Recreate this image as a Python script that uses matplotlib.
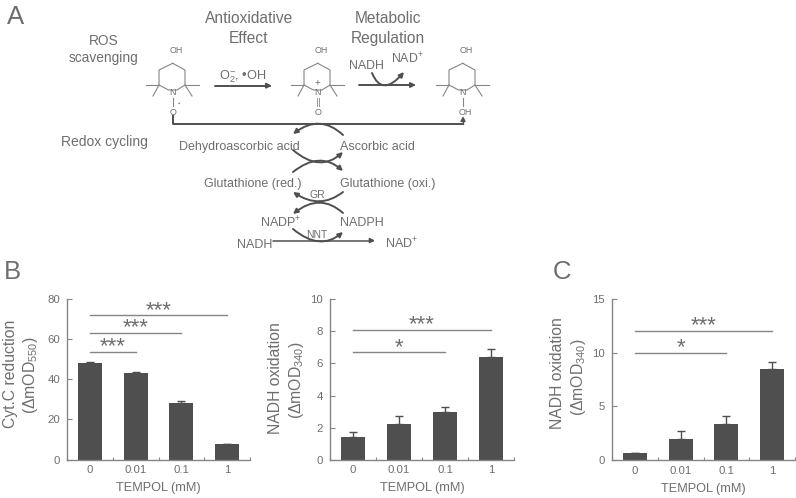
import matplotlib
matplotlib.use("Agg")
import matplotlib.pyplot as plt
from matplotlib.patches import FancyArrowPatch
from matplotlib.path import Path

plt.rcParams["font.family"] = ["Liberation Sans", "DejaVu Sans"]
plt.rcParams["mathtext.fontset"] = "custom"
plt.rcParams["mathtext.rm"] = "Liberation Sans"
plt.rcParams["mathtext.default"] = "regular"

W, H = 796, 498
DARK = "#4f4f4f"
TEXT = "#6e6e6e"
AXIS = "#858585"

doses = ["0", "0.01", "0.1", "1"]

cytc_values = [48, 43, 28.3, 7.7]
cytc_errors = [0.8, 0.5, 0.8, 0]
cytc_ticks = [0, 20, 40, 60, 80]
cytc_sig = [(3, 72, "***"), (2, 63.3, "***"), (1, 53.8, "***")]

nadh_values = [1.4, 2.2, 3.0, 6.4]
nadh_errors = [0.3, 0.5, 0.3, 0.5]
nadh_ticks = [0, 2, 4, 6, 8, 10]
nadh_sig = [(3, 8.1, "***"), (2, 6.7, "*")]

nadh_c_values = [0.7, 2.0, 3.4, 8.5]
nadh_c_errors = [0, 0.75, 0.7, 0.65]
nadh_c_ticks = [0, 5, 10, 15]
nadh_c_sig = [(3, 12.05, "***"), (2, 10.0, "*")]


def bar_panel(fig, box, values, errors, ticks, sig):
    left, right, top, bottom = box
    ax = fig.add_axes([left / W, 1 - bottom / H, (right - left) / W, (bottom - top) / H])
    ax.patch.set_visible(False)
    x = range(len(values))
    ax.bar(x, values, width=0.52, color=DARK, zorder=2)
    ax.errorbar(x, values, yerr=[[0] * len(errors), errors], fmt="none",
                ecolor=DARK, elinewidth=1, capsize=3, capthick=1, zorder=1)
    ax.set_xlim(-0.5, len(values) - 0.5)
    ax.set_ylim(ticks[0], ticks[-1])
    ax.set_yticks(ticks)
    ax.set_xticks([i - 0.5 for i in range(len(values) + 1)])
    ax.set_xticklabels([])
    ax.set_xticks(list(x), labels=doses, minor=True)
    ax.tick_params(axis="y", direction="in", length=3.5, width=0.8, color=AXIS,
                   labelcolor=TEXT, labelsize=8.2, pad=5)
    ax.tick_params(axis="x", which="major", direction="in", length=2.5, width=0.8, color=AXIS)
    ax.tick_params(axis="x", which="minor", length=0, labelcolor=TEXT, labelsize=8.2, pad=4)
    ax.spines[["top", "right"]].set_visible(False)
    ax.spines[["left", "bottom"]].set_color(AXIS)
    ax.spines[["left", "bottom"]].set_linewidth(1)
    ax.set_xlabel("TEMPOL (mM)", fontsize=9.2, color=TEXT, labelpad=5)
    for end, level, stars in sig:
        ax.plot([0, end], [level, level], color=AXIS, lw=1, clip_on=False)
        ax.annotate(stars, (end / 2, level), xytext=(0, -0.5), textcoords="offset points",
                    ha="center", va="baseline", fontsize=16, color=TEXT)
    return ax


fig = plt.figure(figsize=(W / 100, H / 100), dpi=100)

bar_panel(fig, (67, 250, 299.3, 459.5), cytc_values, cytc_errors, cytc_ticks, cytc_sig)
bar_panel(fig, (330, 514, 299.3, 459.7), nadh_values, nadh_errors, nadh_ticks, nadh_sig)
bar_panel(fig, (612, 795, 299.3, 460), nadh_c_values, nadh_c_errors, nadh_c_ticks, nadh_c_sig)

# pixel overlay for the pathway diagram and free labels
ov = fig.add_axes([0, 0, 1, 1])
ov.set_xlim(0, W)
ov.set_ylim(H, 0)
ov.axis("off")


def label(x, y, s, size=9.2, ha="center", color=TEXT, rotation=0):
    ov.text(x, y, s, fontsize=size, ha=ha, va="center", color=color, rotation=rotation)


def molecule(dx, bottom, dot=False, plus=False, double=False):
    ring = [(172.7, 63.3), (159, 70), (159, 85), (168.5, 90), (177, 90),
            (185, 85), (185, 70), (172.7, 63.3)]
    ov.plot([p[0] + dx for p in ring], [p[1] for p in ring], color=AXIS, lw=0.8)
    for a, b in [((159, 85), (146, 85)), ((159, 85), (153, 96)),
                 ((185, 85), (198.7, 85)), ((185, 85), (192, 96))]:
        ov.plot([a[0] + dx, b[0] + dx], [a[1], b[1]], color=AXIS, lw=0.8)
    label(176 + dx, 50, "OH", 6.4)
    label(172.7 + dx, 92.7, "N", 6.4)
    label(172.7 + dx + (3 if bottom == "OH" else 0), 112.7, bottom, 6.4)
    if double:
        ov.plot([171.9 + dx] * 2, [98, 106], color=AXIS, lw=0.6)
        ov.plot([173.5 + dx] * 2, [98, 106], color=AXIS, lw=0.6)
    else:
        ov.plot([172.7 + dx] * 2, [98, 106], color=AXIS, lw=0.8)
    if dot:
        label(178.7 + dx, 103, "•", 4.5)
    if plus:
        label(172.7 + dx, 83, "+", 7)


def arrow(a, b, lw=1.4, via=None):
    if via is None:
        path = Path([a, b], [Path.MOVETO, Path.LINETO])
    else:
        ctrl = (2 * via[0] - (a[0] + b[0]) / 2, 2 * via[1] - (a[1] + b[1]) / 2)
        path = Path([a, ctrl, b], [Path.MOVETO, Path.CURVE3, Path.CURVE3])
    ov.add_patch(FancyArrowPatch(path=path, arrowstyle="-|>", mutation_scale=7,
                                 color=DARK, lw=lw, shrinkA=0, shrinkB=0))


label(7, 17, "A", 18.5, ha="left")
label(4, 272, "B", 18.5, ha="left")
label(553, 272, "C", 18.5, ha="left")

label(104, 41, "ROS", 9.9)
label(104, 58, "scavenging", 9.9)
label(249, 18, "Antioxidative", 11.2)
label(249, 38, "Effect", 11.2)
label(388, 18, "Metabolic", 11.2)
label(388, 38, "Regulation", 11.2)
label(104, 141.5, "Redox cycling", 10)

molecule(0, "O", dot=True)
molecule(145, "O", plus=True, double=True)
molecule(290, "OH")

label(243, 77, "O$_2^{-}$, •OH", 9.2)
arrow((215, 85.7), (272, 85.7))
arrow((359, 85), (416, 85))
arrow((372, 73), (404, 72), via=(385, 85))
label(366, 66, "NADH", 8.9)
label(407, 59, "NAD$^{+}$", 8.9)

ov.plot([172.7, 172.7, 463], [116, 124, 124], color=DARK, lw=1.4)
arrow((463, 124), (463, 116), lw=1)

arrow((343, 135), (293, 134), via=(319, 124))
arrow((293, 150), (343, 152), via=(319, 162))
arrow((293, 172), (343, 171), via=(319, 161))
arrow((343, 192), (293, 192), via=(319, 201))
arrow((343, 213), (293, 214), via=(319, 203))
arrow((293, 229), (343, 232), via=(319, 241))
arrow((273, 240.5), (375, 240.5), lw=1.1)

label(300, 146.5, "Dehydroascorbic acid", 9, ha="right")
label(340, 146.5, "Ascorbic acid", 9, ha="left")
label(301, 184, "Glutathione (red.)", 9, ha="right")
label(340, 184, "Glutathione (oxi.)", 9, ha="left")
label(317, 195, "GR", 7.5)
label(302, 223, "NADP$^{+}$", 9, ha="right")
label(340, 223, "NADPH", 9, ha="left")
label(317, 234.5, "NNT", 7.5)
label(255, 244.5, "NADH", 9)
label(402, 244, "NAD$^{+}$", 9)

# y labels, two lines each
label(11, 374, "Cyt.C reduction", 11.3, rotation=90)
label(30, 375, "(ΔmOD$_{550}$)", 11.3, rotation=90)
label(276, 378, "NADH oxidation", 11.3, rotation=90)
label(296, 380, "(ΔmOD$_{340}$)", 11.3, rotation=90)
label(558, 373, "NADH oxidation", 11.3, rotation=90)
label(579, 377, "(ΔmOD$_{340}$)", 11.3, rotation=90)

fig.savefig("out.png", dpi=100)
